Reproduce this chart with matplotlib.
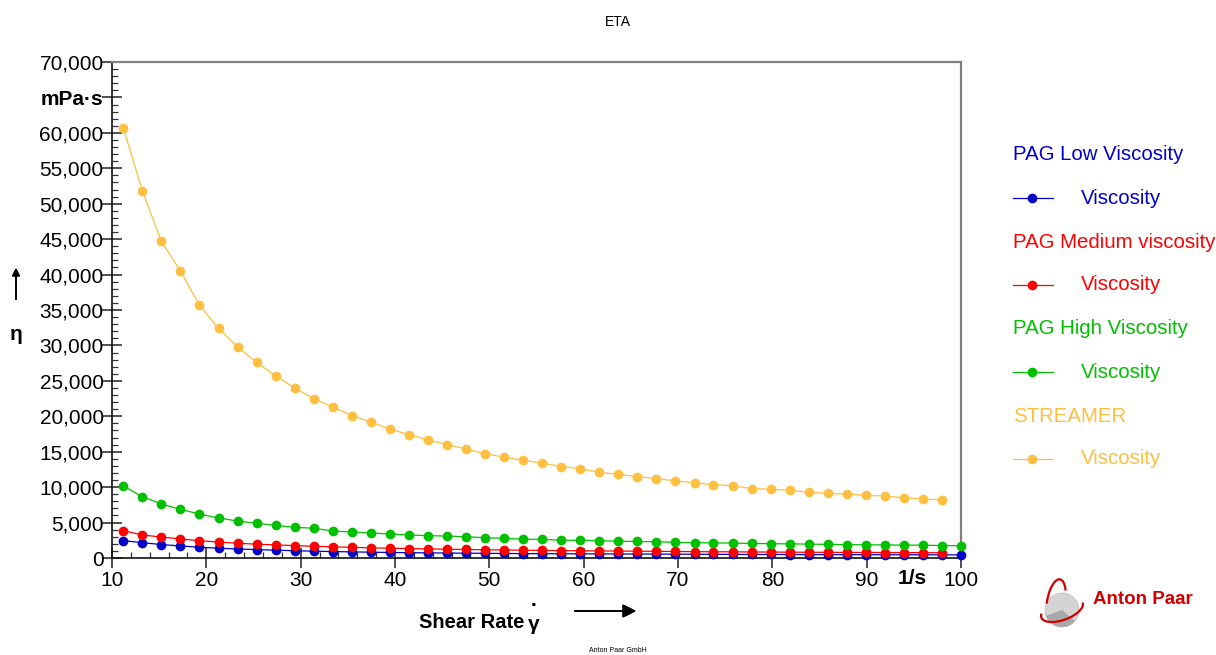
import matplotlib
matplotlib.use("Agg")
import matplotlib.pyplot as plt
from matplotlib.patches import Circle, Arc, Wedge
from matplotlib.ticker import MultipleLocator, FixedLocator

plt.rcParams['font.family'] = ['Liberation Sans', 'DejaVu Sans']

# Shear rate steps (1/s)
shear_rate = [11.2, 13.22, 15.24, 17.25, 19.27, 21.29, 23.31, 25.33, 27.34, 29.36,
              31.38, 33.4, 35.42, 37.44, 39.45, 41.47, 43.49, 45.51, 47.53, 49.55,
              51.56, 53.58, 55.6, 57.62, 59.64, 61.65, 63.67, 65.69, 67.71, 69.73,
              71.75, 73.76, 75.78, 77.8, 79.82, 81.84, 83.85, 85.87, 87.89, 89.91,
              91.93, 93.95, 95.96, 97.98, 100.0]

# Viscosity in mPa·s
pag_low = [2450, 2160, 1900, 1700, 1520, 1380, 1270, 1190, 1100, 1030,
           960, 910, 860, 820, 780, 750, 720, 700, 680, 660,
           640, 620, 610, 600, 590, 580, 570, 560, 550, 540,
           530, 520, 510, 500, 500, 490, 480, 480, 470, 470,
           460, 460, 450, 450, 440]
pag_medium = [3850, 3250, 2960, 2680, 2450, 2250, 2080, 1950, 1850, 1750,
              1660, 1580, 1500, 1440, 1380, 1330, 1280, 1240, 1200, 1160,
              1130, 1100, 1070, 1040, 1020, 1000, 980, 960, 940, 920,
              900, 880, 870, 850, 840, 820, 810, 800, 790, 780,
              770, 760, 750, 740]
pag_high = [10160, 8650, 7620, 6870, 6200, 5650, 5220, 4900, 4600, 4330,
            4200, 3810, 3670, 3530, 3390, 3250, 3150, 3100, 3000, 2860,
            2780, 2640, 2640, 2500, 2500, 2450, 2360, 2330, 2300, 2200,
            2170, 2140, 2100, 2050, 2020, 1990, 1960, 1920, 1890, 1860,
            1840, 1820, 1800, 1760, 1740]
streamer = [60700, 51800, 44700, 40500, 35700, 32400, 29800, 27600, 25700, 24000,
            22500, 21300, 20100, 19200, 18200, 17400, 16700, 16000, 15400, 14700,
            14250, 13800, 13400, 12900, 12600, 12100, 11800, 11500, 11200, 10900,
            10600, 10350, 10200, 9800, 9700, 9550, 9270, 9130, 9000, 8850,
            8750, 8500, 8330, 8200]

sample_names = ["PAG Low Viscosity", "PAG Medium viscosity", "PAG High Viscosity", "STREAMER"]
sample_colors = ["#0000C8", "#FF0000", "#00C000", "#FFBF40"]
sample_values = [pag_low, pag_medium, pag_high, streamer]

y_ticks = list(range(0, 70001, 5000))
y_labels = [f"{v:,}" for v in y_ticks]
y_labels[13] = "mPa·s"
x_ticks = list(range(10, 101, 10))
x_labels = [str(v) for v in x_ticks]

W, H = 1216, 655
fig = plt.figure(figsize=(W / 100, H / 100), dpi=100)


def fpos(x, y):
    return x / W, 1 - y / H


ax = fig.add_axes([112 / W, 1 - 558 / H, 849 / W, 496 / H])

for vals, col in zip(sample_values, sample_colors):
    ax.plot(shear_rate[:len(vals)], vals, color=col, lw=0.9, marker='o',
            markersize=7, markeredgewidth=0, zorder=3, clip_on=False)

ax.set_xlim(10, 100)
ax.set_ylim(0, 70000)
ax.xaxis.set_major_locator(FixedLocator(x_ticks))
ax.set_xticklabels(x_labels)
ax.xaxis.set_minor_locator(MultipleLocator(2))
ax.yaxis.set_major_locator(FixedLocator(y_ticks))
ax.set_yticklabels(y_labels)
ax.yaxis.set_minor_locator(MultipleLocator(1000))

ax.tick_params(axis='both', which='major', direction='inout', length=14, width=1.2,
               color='#333333', labelsize=15, pad=1)
ax.tick_params(axis='both', which='minor', direction='in', length=4, width=0.9,
               color='#333333')
ax.tick_params(axis='y', which='major', pad=-1)
ax.tick_params(axis='x', which='major', pad=2)
for lbl in ax.get_yticklabels():
    if lbl.get_text() == "mPa·s":
        lbl.set_fontweight('bold')

for side in ('left', 'bottom'):
    ax.spines[side].set_color('#111111')
    ax.spines[side].set_linewidth(1.2)
for side in ('top', 'right'):
    ax.spines[side].set_color('#808080')
    ax.spines[side].set_linewidth(1.6)

# unit label on the x axis
fig.text(*fpos(912, 579), "1/s", ha='center', va='center', fontsize=15, fontweight='bold')

# title and footer
fig.text(*fpos(618, 22), "ETA", ha='center', va='center', fontsize=10)
fig.text(*fpos(618, 651), "Anton Paar GmbH", ha='center', va='center', fontsize=5)

# y axis name with arrow
fig.text(*fpos(16, 334), "η", ha='center', va='center', fontsize=15, fontweight='bold')
fig.add_artist(plt.annotate("", xy=fpos(16, 265), xytext=fpos(16, 302),
                            xycoords='figure fraction', textcoords='figure fraction',
                            arrowprops=dict(arrowstyle='-|>', color='black', lw=1.2,
                                            mutation_scale=11)))

# x axis name with arrow
fig.text(*fpos(524, 622), "Shear Rate", ha='right', va='center', fontsize=14.5,
         fontweight='bold')
fig.text(*fpos(534, 625), "γ", ha='center', va='center', fontsize=15, fontweight='bold')
fig.text(*fpos(534.5, 606), "·", ha='center', va='center', fontsize=15, fontweight='bold')
fig.add_artist(plt.annotate("", xy=fpos(639, 611), xytext=fpos(572, 611),
                            xycoords='figure fraction', textcoords='figure fraction',
                            arrowprops=dict(arrowstyle='-|>', color='black', lw=1.2,
                                            mutation_scale=20)))

# legend entries
legend_ax = fig.add_axes([0, 0, 1, 1], facecolor='none')
legend_ax.set_xlim(0, W)
legend_ax.set_ylim(H, 0)
legend_ax.axis('off')
row_y = 155
for name, col in zip(sample_names, sample_colors):
    legend_ax.text(1013, row_y, name, color=col, fontsize=14.7, va='center', ha='left')
    legend_ax.plot([1013, 1053], [row_y + 43, row_y + 43], color=col, lw=0.9)
    legend_ax.plot([1032], [row_y + 43], 'o', color=col, markersize=7, markeredgewidth=0)
    legend_ax.text(1081, row_y + 43, "Viscosity", color=col, fontsize=14.7,
                   va='center', ha='left')
    row_y += 87

# company logo
logo = fig.add_axes([1028 / W, 1 - 638 / H, 64 / W, 64 / H])
logo.set_xlim(-32, 32)
logo.set_ylim(-32, 32)
logo.set_aspect('equal')
logo.axis('off')
logo.add_patch(Circle((2, -4), 17, facecolor='#d4d4d4', edgecolor='#bdbdbd', lw=0.5))
logo.add_patch(Wedge((2, -4), 17, 200, 320, facecolor='#a8a8a8', edgecolor='none'))
logo.add_patch(Arc((2, -4), 44, 20, angle=20, theta1=170, theta2=360, color='#d00000', lw=1.6))
logo.add_patch(Arc((-4, 4), 18, 46, angle=-10, theta1=60, theta2=200, color='#d00000', lw=1.6))
fig.text(*fpos(1093, 600), "Anton Paar", color='#d00000', fontsize=13.5, fontweight='bold',
         ha='left', va='center')

fig.savefig("out.png", dpi=100)
